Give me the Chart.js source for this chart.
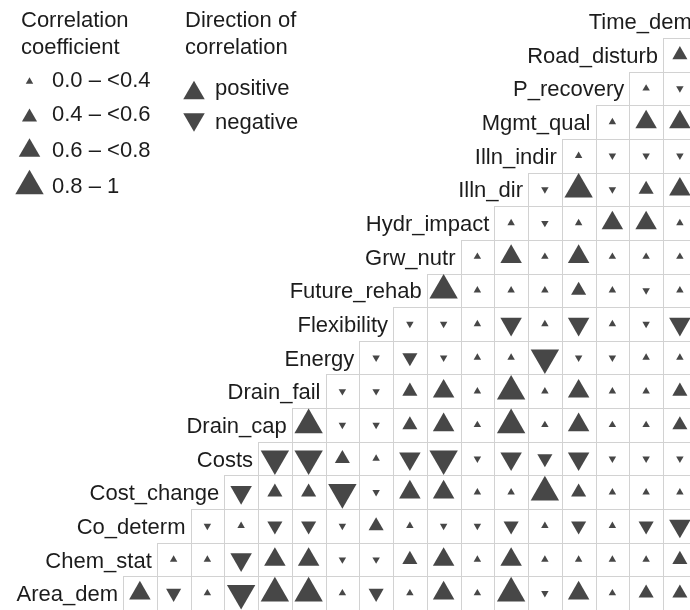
<!DOCTYPE html>
<html>
<head>
<meta charset="utf-8">
<script src="https://cdn.jsdelivr.net/npm/chart.js@4.4.0/dist/chart.umd.min.js"></script>
<style>
  html, body { margin: 0; padding: 0; background: #ffffff; overflow: hidden; }
  #wrap { position: relative; width: 690px; height: 610px; }
</style>
</head>
<body>
<div id="wrap"><canvas id="corr"></canvas></div>
<script>
// Variables, bottom row first; each row lists its correlation with every later variable
const variables = ['Area_dem', 'Chem_stat', 'Co_determ', 'Cost_change', 'Costs', 'Drain_cap',
  'Drain_fail', 'Energy', 'Flexibility', 'Future_rehab', 'Grw_nutr', 'Hydr_impact',
  'Illn_dir', 'Illn_indir', 'Mgmt_qual', 'P_recovery', 'Road_disturb', 'Time_dem'];

const corrAreaDem     = [0.7, -0.5, 0.2, -0.9, 0.9, 0.9, 0.2, -0.5, 0.2, 0.7, 0.2, 0.9, -0.2, 0.7, 0.2, 0.5, 0.5];
const corrChemStat    = [0.2, 0.2, -0.7, 0.7, 0.7, -0.2, -0.2, 0.5, 0.7, 0.2, 0.7, 0.2, 0.2, 0.2, 0.2, 0.5];
const corrCoDeterm    = [-0.2, 0.2, -0.5, -0.5, -0.2, 0.5, 0.2, -0.2, -0.2, -0.5, 0.2, -0.5, 0.2, -0.5, -0.7];
const corrCostChange  = [-0.7, 0.5, 0.5, -0.9, -0.2, 0.7, 0.7, 0.2, 0.2, 0.9, 0.5, 0.2, 0.2, 0.2];
const corrCosts       = [-0.9, -0.9, 0.5, 0.2, -0.7, -0.9, -0.2, -0.7, -0.5, -0.7, -0.2, -0.2, -0.2];
const corrDrainCap    = [0.9, -0.2, -0.2, 0.5, 0.7, 0.2, 0.9, 0.2, 0.7, 0.2, 0.2, 0.5];
const corrDrainFail   = [-0.2, -0.2, 0.5, 0.7, 0.2, 0.9, 0.2, 0.7, 0.2, 0.2, 0.5];
const corrEnergy      = [-0.2, -0.5, -0.2, 0.2, 0.2, -0.9, -0.2, -0.2, 0.2, 0.2];
const corrFlexibility = [-0.2, -0.2, 0.2, -0.7, 0.2, -0.7, 0.2, -0.2, -0.7];
const corrFutureRehab = [0.9, 0.2, 0.2, 0.2, 0.5, 0.2, -0.2, 0.2];
const corrGrwNutr     = [0.2, 0.7, 0.2, 0.7, 0.2, 0.2, 0.2];
const corrHydrImpact  = [0.2, -0.2, 0.2, 0.7, 0.7, 0.2];
const corrIllnDir     = [-0.2, 0.9, -0.2, 0.5, 0.7];
const corrIllnIndir   = [0.2, -0.2, -0.2, -0.2];
const corrMgmtQual    = [0.2, 0.7, 0.7];
const corrPRecovery   = [0.2, -0.2];
const corrRoadDisturb = [0.5];

const correlationRows = [corrAreaDem, corrChemStat, corrCoDeterm, corrCostChange, corrCosts,
  corrDrainCap, corrDrainFail, corrEnergy, corrFlexibility, corrFutureRehab, corrGrwNutr,
  corrHydrImpact, corrIllnDir, corrIllnIndir, corrMgmtQual, corrPRecovery, corrRoadDisturb];

// Legend content
const sizeTitle = ['Correlation', 'coefficient'];
const sizeLabels = ['0.0 \u2013 <0.4', '0.4 \u2013 <0.6', '0.6 \u2013 <0.8', '0.8 \u2013 1'];
const sizeBreaks = [0.0, 0.4, 0.6, 0.8];
const sizeSamples = [0.2, 0.5, 0.7, 0.9];
const directionTitle = ['Direction of', 'correlation'];
const directionLabels = ['positive', 'negative'];
const directionSamples = [0.7, -0.7];

const MARK = '#474747';
const INK = '#1c1c1c';
const GRID = '#d2d2d2';
const FONT = '22px "Liberation Sans", Arial, Helvetica, sans-serif';
const classRadius = [4.3, 8.7, 12.4, 16.4];

function sizeClass(r) {
  const a = Math.abs(r);
  let k = 0;
  for (let i = 0; i < sizeBreaks.length; i++) if (a >= sizeBreaks[i]) k = i;
  return k;
}

// One point per matrix cell: x = column variable, y = row variable
const points = [];
correlationRows.forEach((row, i) => {
  row.forEach((r, k) => points.push({ x: i + 1 + k, y: i, r: r }));
});

function triangle(ctx, cx, cy, rad, down) {
  const s = down ? -1 : 1;
  ctx.beginPath();
  ctx.moveTo(cx, cy - s * rad);
  ctx.lineTo(cx + rad * Math.sqrt(3) / 2, cy + s * rad / 2);
  ctx.lineTo(cx - rad * Math.sqrt(3) / 2, cy + s * rad / 2);
  ctx.closePath();
  ctx.fill();
}

const cellGrid = {
  id: 'cellGrid',
  beforeDatasetsDraw(chart) {
    const { ctx, scales: { x, y } } = chart;
    ctx.save();
    ctx.strokeStyle = GRID;
    ctx.lineWidth = 1;
    points.forEach(p => {
      const x0 = Math.round(x.getPixelForValue(p.x - 0.5)) + 0.5;
      const x1 = Math.round(x.getPixelForValue(p.x + 0.5)) + 0.5;
      const y0 = Math.round(y.getPixelForValue(p.y + 0.5)) + 0.5;
      const y1 = Math.round(y.getPixelForValue(p.y - 0.5)) + 0.5;
      ctx.strokeRect(x0, y0, x1 - x0, y1 - y0);
    });
    ctx.restore();
  },
  afterDraw(chart) {
    const { ctx, scales: { x, y } } = chart;
    ctx.save();
    ctx.fillStyle = INK;
    ctx.font = FONT;
    ctx.textBaseline = 'alphabetic';
    // row names sit on the diagonal, just left of each row's first cell
    ctx.textAlign = 'right';
    variables.forEach((name, i) => {
      ctx.fillText(name, x.getPixelForValue(i + 0.5) - 5, y.getPixelForValue(i) + 8);
    });

    // size legend
    ctx.textAlign = 'left';
    ctx.fillText(sizeTitle[0], 21, 27);
    ctx.fillText(sizeTitle[1], 21, 54);
    const rowBase = [87, 121, 157, 193];
    const rowMark = [80.5, 115, 147.5, 182];
    sizeLabels.forEach((lab, i) => {
      ctx.fillStyle = INK;
      ctx.fillText(lab, 52, rowBase[i]);
      const rad = classRadius[sizeClass(sizeSamples[i])];
      ctx.fillStyle = MARK;
      triangle(ctx, 29.5, rowMark[i] + rad / 4, rad, false);
    });

    // direction legend
    ctx.fillStyle = INK;
    ctx.fillText(directionTitle[0], 185, 27);
    ctx.fillText(directionTitle[1], 185, 54);
    const dirBase = [95, 129];
    const dirMark = [90, 122.5];
    directionLabels.forEach((lab, i) => {
      ctx.fillStyle = INK;
      ctx.fillText(lab, 215, dirBase[i]);
      const v = directionSamples[i];
      const rad = classRadius[sizeClass(v)];
      ctx.fillStyle = MARK;
      triangle(ctx, 194, dirMark[i] + (v < 0 ? -rad / 4 : rad / 4), rad, v < 0);
    });
    ctx.restore();
  }
};

new Chart(document.getElementById('corr'), {
  type: 'scatter',
  data: {
    datasets: [{
      data: points,
      pointStyle: 'triangle',
      pointRadius: c => classRadius[sizeClass(c.raw.r)],
      rotation: c => (c.raw.r < 0 ? 180 : 0),
      pointBackgroundColor: MARK,
      pointBorderWidth: 0,
      borderWidth: 0,
      clip: false
    }]
  },
  options: {
    responsive: true,
    maintainAspectRatio: false,
    animation: false,
    events: [],
    layout: { autoPadding: false, padding: { left: 123, top: 38, right: 0, bottom: 0 } },
    scales: {
      x: { type: 'linear', min: 0.5, max: 17.3, display: false },
      y: { type: 'linear', min: -0.5, max: 16.5, display: false }
    },
    plugins: { legend: { display: false }, tooltip: { enabled: false } }
  },
  plugins: [cellGrid]
});
</script>
</body>
</html>
